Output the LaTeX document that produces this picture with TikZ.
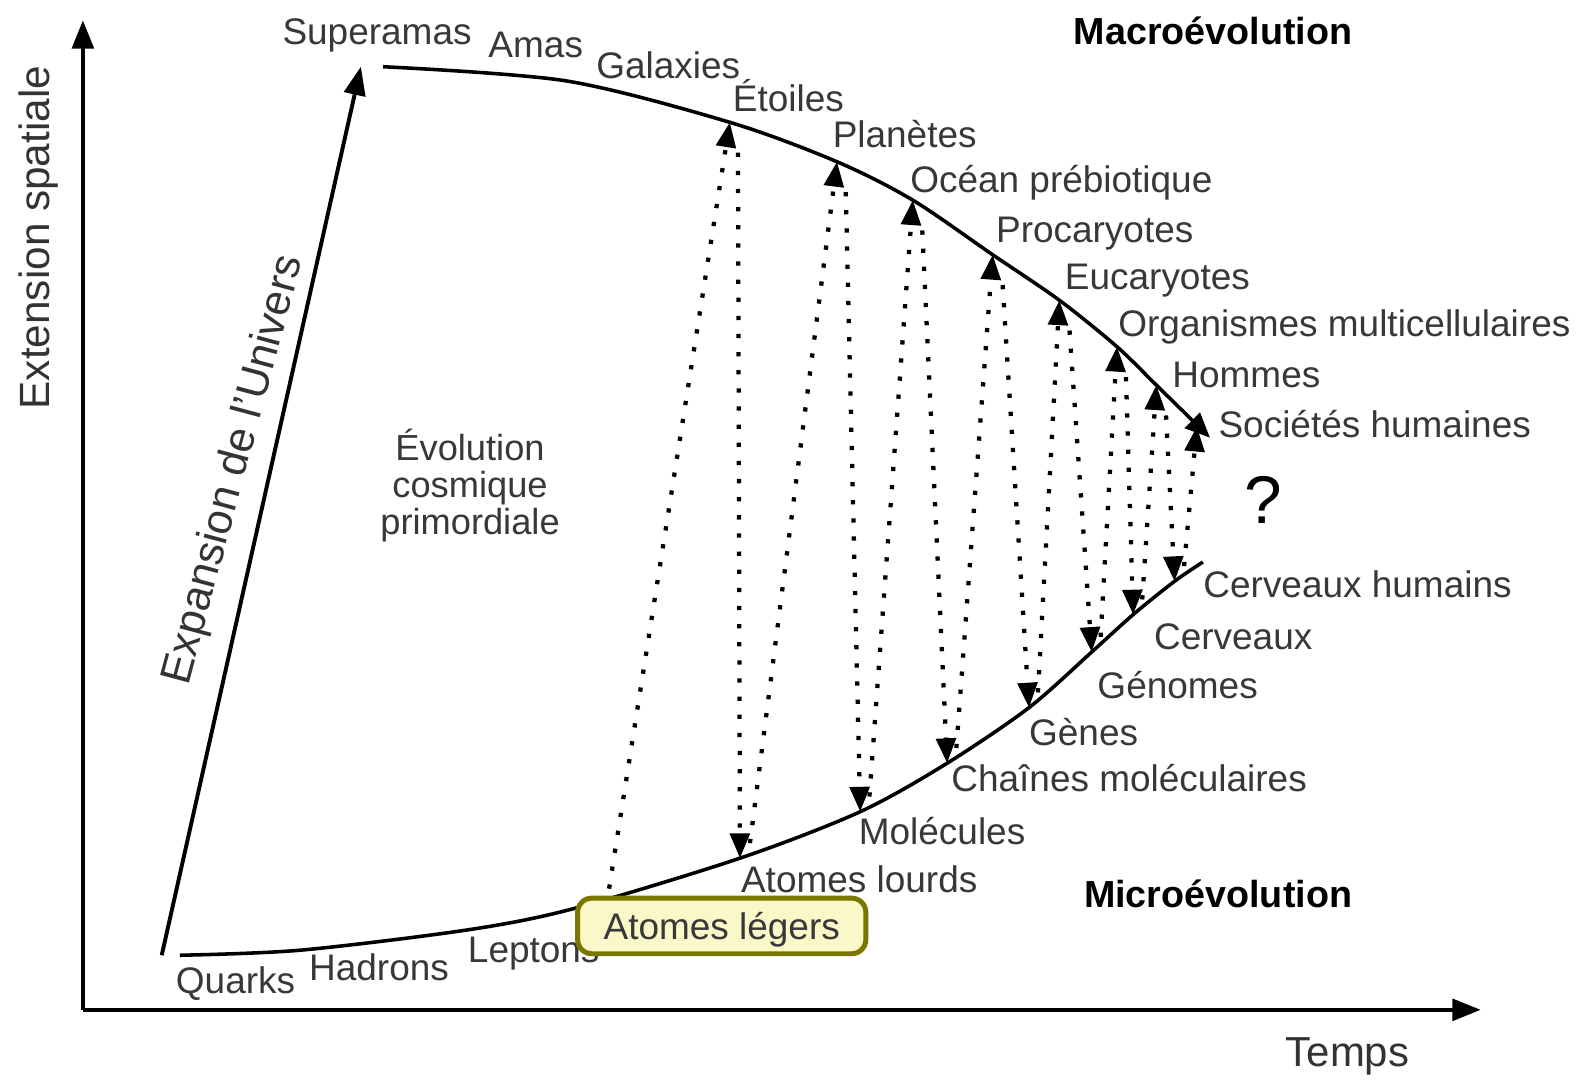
\documentclass[tikz,border=0pt]{standalone}
\usepackage{fontspec}
\setmainfont{Liberation Sans}
\usetikzlibrary{arrows.meta}
\definecolor{boxline}{RGB}{122,118,0}
\definecolor{boxfill}{RGB}{250,248,200}
\tikzset{
  lbl/.style={font=\fontsize{10.4}{12}\selectfont, text=black!78, inner sep=0pt,
    text height=1.8ex, text depth=.4ex},
  evo/.style={font=\fontsize{10.6}{12}\selectfont\bfseries, inner sep=0pt,
    text height=1.8ex, text depth=.4ex},
  axis/.style={line width=1.3pt, -{Triangle[length=8pt,width=6pt]}},
  curve/.style={line width=1pt},
  dotline/.style={line width=1.2pt, dash pattern=on 1.2pt off 3.9pt,
    -{Triangle[length=7pt,width=5.5pt]}},
}
\begin{document}
\begin{tikzpicture}[x=0.01cm, y=-0.01cm]
	\useasboundingbox[fill=white] (0,0) rectangle (1568,1069);
	% axes
	\coordinate (o) at (82,999);
	\coordinate (ytip) at (82,20);
	\coordinate (xtip) at (1465,999);
	\draw[axis] (o) -- (ytip);
	\draw[axis] (o) -- (xtip);
	\node[font=\fontsize{11.9}{13}\selectfont, text=black!80, rotate=90] (yaxis) at (38,235) {Extension spatiale};
	\node[font=\fontsize{11.8}{13}\selectfont, text=black!80] (temps) at (1333,1045) {Temps};

	% expansion
	\coordinate (bigbang) at (160,945);
	\coordinate (top) at (357,66);
	\draw[line width=1.1pt, -{Triangle[length=8pt,width=6pt]}] (bigbang) -- (top);
	\node[font=\fontsize{12.2}{13}\selectfont, text=black!80, rotate=75] (expansion) at (232,465) {Expansion de l'Univers};

	% upper curve (macro)
	\coordinate (u0) at (379,66);
	\coordinate (u1) at (722,121);
	\coordinate (u2) at (828,160);
	\coordinate (u3) at (903,198);
	\coordinate (u4) at (982,252);
	\coordinate (u5) at (1048,297);
	\coordinate (u6) at (1105,343);
	\coordinate (u7) at (1144,381);
	\coordinate (u8) at (1184,422);
	\coordinate (uend) at (1197,433);
	\draw[curve, -{Triangle[length=7pt,width=6pt]}] plot[smooth, tension=0.5] coordinates
	  {(u0) (560,80) (u1) (u2) (u3) (u4) (u5) (u6) (u7) (uend)};

	% lower curve (micro)
	\coordinate (l00) at (178,945);
	\coordinate (l0) at (601,889);
	\coordinate (l1) at (732,849);
	\coordinate (l2) at (851,803);
	\coordinate (l3) at (937,755);
	\coordinate (l4) at (1018,700);
	\coordinate (l5) at (1080,645);
	\coordinate (l6) at (1121,608);
	\coordinate (l7) at (1162,575);
	\coordinate (lend) at (1190,556);
	\draw[curve] plot[smooth, tension=0.5] coordinates
	  {(l00) (297,940) (462,920) (567,899) (l1) (l2) (l3) (l4) (l5) (l6) (l7) (lend)};

	% dotted exchanges
	\draw[dotline, shorten <=0.1cm] (l0) -- (u1);
	\draw[dotline, shorten <=0.3cm] ([xshift=0.8mm]u1) -- (l1);
	\draw[dotline, shorten <=0.15cm] ([xshift=0.8mm]l1) -- (u2);
	\draw[dotline, shorten <=0.3cm] ([xshift=0.8mm]u2) -- (l2);
	\draw[dotline, shorten <=0.15cm] ([xshift=0.8mm]l2) -- (u3);
	\draw[dotline, shorten <=0.3cm] ([xshift=0.8mm]u3) -- (l3);
	\draw[dotline, shorten <=0.15cm] ([xshift=0.8mm]l3) -- (u4);
	\draw[dotline, shorten <=0.3cm] ([xshift=0.8mm]u4) -- (l4);
	\draw[dotline, shorten <=0.15cm] ([xshift=0.8mm]l4) -- (u5);
	\draw[dotline, shorten <=0.3cm] ([xshift=0.8mm]u5) -- (l5);
	\draw[dotline, shorten <=0.15cm] ([xshift=0.8mm]l5) -- (u6);
	\draw[dotline, shorten <=0.3cm] ([xshift=0.8mm]u6) -- (l6);
	\draw[dotline, shorten <=0.15cm] ([xshift=0.8mm]l6) -- (u7);
	\draw[dotline, shorten <=0.3cm] ([xshift=0.8mm]u7) -- (l7);
	\draw[dotline, shorten <=0.15cm] ([xshift=0.8mm]l7) -- (u8);

	% macro labels
	\node[lbl] (superamas) at (373,31) {Superamas};
	\node[lbl] (amas) at (530,44) {Amas};
	\node[lbl] (galaxies) at (661,65) {Galaxies};
	\node[lbl] (etoiles) at (780,97) {Étoiles};
	\node[lbl] (planetes) at (895,133) {Planètes};
	\node[lbl] (ocean) at (1050,177) {Océan prébiotique};
	\node[lbl] (procaryotes) at (1083,227) {Procaryotes};
	\node[lbl] (eucaryotes) at (1145,273) {Eucaryotes};
	\node[lbl] (organismes) at (1330,320) {Organismes multicellulaires};
	\node[lbl] (hommes) at (1233,370) {Hommes};
	\node[lbl] (societes) at (1360,420) {Sociétés humaines};

	% micro labels
	\node[lbl] (quarks) at (233,970) {Quarks};
	\node[lbl] (hadrons) at (375,957) {Hadrons};
	\node[lbl] (leptons) at (528,939) {Leptons};
	\node[lbl, draw=boxline, fill=boxfill, line width=1.4pt, rounded corners=4pt,
	  minimum width=2.85cm, minimum height=0.55cm] (legers) at (714,916) {Atomes légers};
	\node[lbl] (lourds) at (850,870) {Atomes lourds};
	\node[lbl] (molecules) at (932,822) {Molécules};
	\node[lbl] (chaines) at (1117,770) {Chaînes moléculaires};
	\node[lbl] (genes) at (1072,724) {Gènes};
	\node[lbl] (genomes) at (1165,678) {Génomes};
	\node[lbl] (cerveaux) at (1220,630) {Cerveaux};
	\node[lbl] (cerveauxh) at (1343,578) {Cerveaux humains};

	% titles
	\node[evo] (macro) at (1200,31) {Macroévolution};
	\node[evo] (micro) at (1205,885) {Microévolution};
	\node[font=\fontsize{19}{20}\selectfont] (question) at (1250,495) {?};
	\node[align=center, inner sep=0pt, text=black!78, font=\fontsize{10.2}{10.4}\selectfont] (cosmique) at (465,480)
	  {Évolution\\cosmique\\primordiale};
\end{tikzpicture}
\end{document}
